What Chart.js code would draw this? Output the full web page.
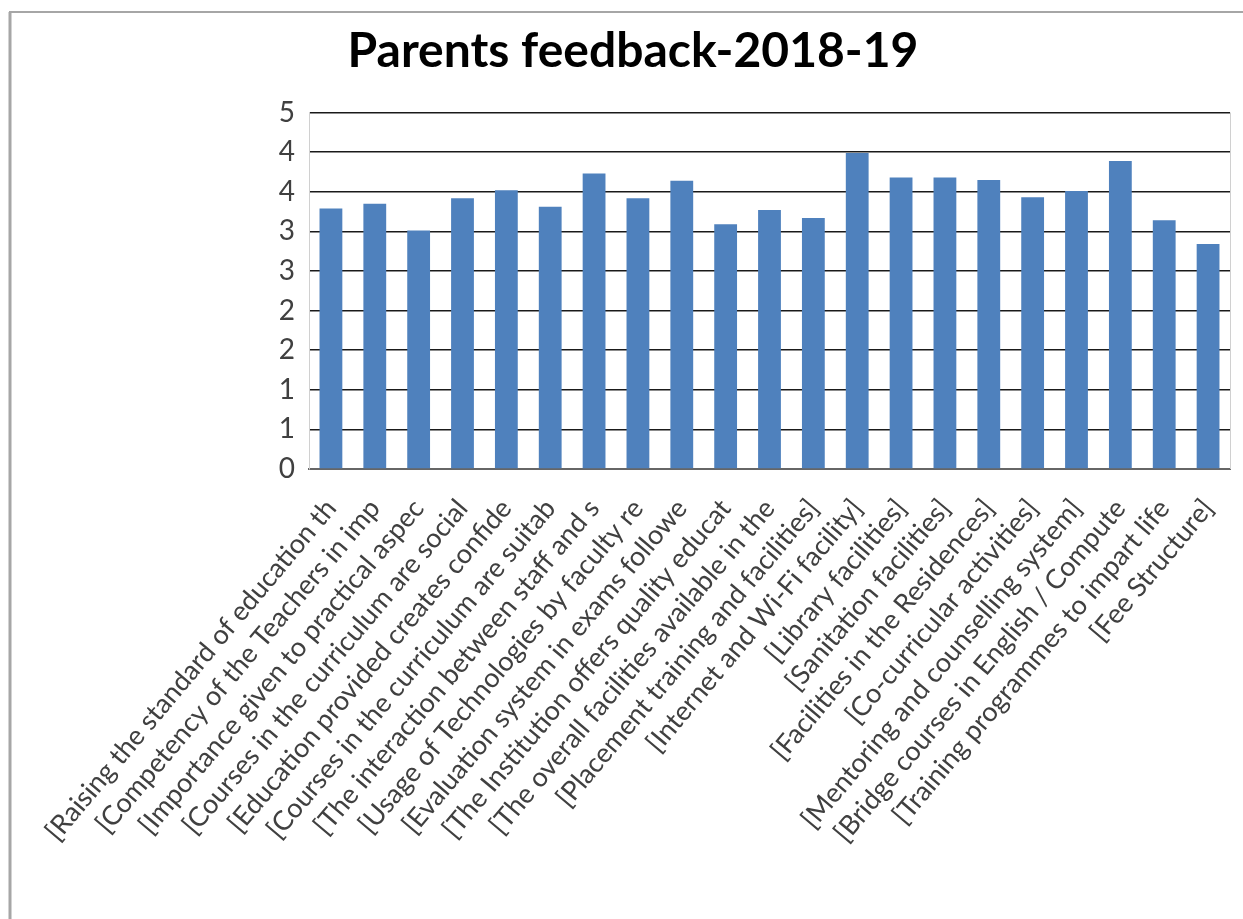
<!DOCTYPE html>
<html>
<head>
<meta charset="utf-8">
<script src="https://cdn.jsdelivr.net/npm/chart.js@4"></script>
<style>
html,body{margin:0;padding:0;background:#fff;overflow:hidden}
#wrap{width:1243px;height:919px;position:relative}
</style>
</head>
<body>
<div id="wrap"><canvas id="c"></canvas></div>
<script>
const chartTitle = 'Parents feedback-2018-19';

const categories = [
  '[Raising the standard of education th',
  '[Competency of the Teachers in imp',
  '[Importance given to practical aspec',
  '[Courses in the curriculum are social',
  '[Education provided creates confide',
  '[Courses in the curriculum are suitab',
  '[The interaction between staff and s',
  '[Usage of Technologies by faculty re',
  '[Evaluation system in exams followe',
  '[The Institution offers quality educat',
  '[The overall facilities available in the',
  '[Placement training and facilities]',
  '[Internet and Wi-Fi facility]',
  '[Library facilities]',
  '[Sanitation facilities]',
  '[Facilities in the Residences]',
  '[Co-curricular activities]',
  '[Mentoring and counselling system]',
  '[Bridge courses in English / Compute',
  '[Training programmes to impart life',
  '[Fee Structure]'
];

const scores = [3.29, 3.35, 3.01, 3.42, 3.52, 3.31, 3.73, 3.42, 3.64, 3.09,
                3.27, 3.17, 3.99, 3.68, 3.68, 3.65, 3.43, 3.51, 3.89, 3.14, 2.84];

const yTickLabels = ['0', '1', '1', '2', '2', '3', '3', '4', '4', '5'];

const framePlugin = {
  id: 'frame',
  beforeDraw(chart) {
    const ctx = chart.ctx;
    ctx.save();
    ctx.fillStyle = '#ffffff';
    ctx.fillRect(0, 0, chart.width, chart.height);
    ctx.strokeStyle = '#a6a6a6';
    ctx.lineWidth = 3;
    ctx.beginPath();
    ctx.moveTo(10, chart.height);
    ctx.lineTo(10, 12);
    ctx.stroke();
    ctx.lineWidth = 2;
    ctx.beginPath();
    ctx.moveTo(9, 12);
    ctx.lineTo(chart.width, 12);
    ctx.stroke();
    ctx.restore();
  },
  afterDraw(chart) {
    const a = chart.chartArea;
    const ctx = chart.ctx;
    ctx.save();
    ctx.strokeStyle = '#d0d0d0';
    ctx.lineWidth = 1;
    ctx.beginPath();
    ctx.moveTo(a.right + 0.5, a.top);
    ctx.lineTo(a.right + 0.5, a.bottom);
    ctx.stroke();
    ctx.restore();
  }
};

new Chart(document.getElementById('c'), {
  type: 'bar',
  data: {
    labels: categories,
    datasets: [{
      label: 'Score',
      data: scores,
      backgroundColor: '#4f81bd',
      borderWidth: 0,
      barPercentage: 0.52,
      categoryPercentage: 1.0
    }]
  },
  plugins: [framePlugin],
  options: {
    responsive: true,
    maintainAspectRatio: false,
    animation: false,
    devicePixelRatio: 1,
    layout: { padding: { left: 36, right: 13, top: 0, bottom: 0 } },
    plugins: {
      legend: { display: false },
      tooltip: { enabled: false },
      title: {
        display: true,
        text: chartTitle,
        color: '#000000',
        font: { family: 'Lato', weight: 'bold', size: 48 },
        padding: { top: 23, bottom: 32 }
      }
    },
    scales: {
      x: {
        grid: { display: false },
        border: { display: true, color: '#666666', width: 2 },
        ticks: {
          autoSkip: false,
          minRotation: 50,
          maxRotation: 50,
          color: '#404040',
          font: { family: 'Lato', size: 27 },
          padding: 16
        },
        afterFit(s) {
          s.height = 450;
          s.paddingLeft = 0;
          s.paddingRight = 0;
        }
      },
      y: {
        min: 0,
        max: 4.5,
        ticks: {
          stepSize: 0.5,
          callback: (v, i) => yTickLabels[i],
          color: '#404040',
          font: { family: 'Lato', size: 28 },
          padding: 14
        },
        grid: { color: '#1a1a1a', lineWidth: 1.5, drawTicks: false },
        border: { display: true, color: '#d0d0d0', width: 1 },
        afterFit(s) { s.width = 273; }
      }
    }
  }
});
</script>
</body>
</html>
